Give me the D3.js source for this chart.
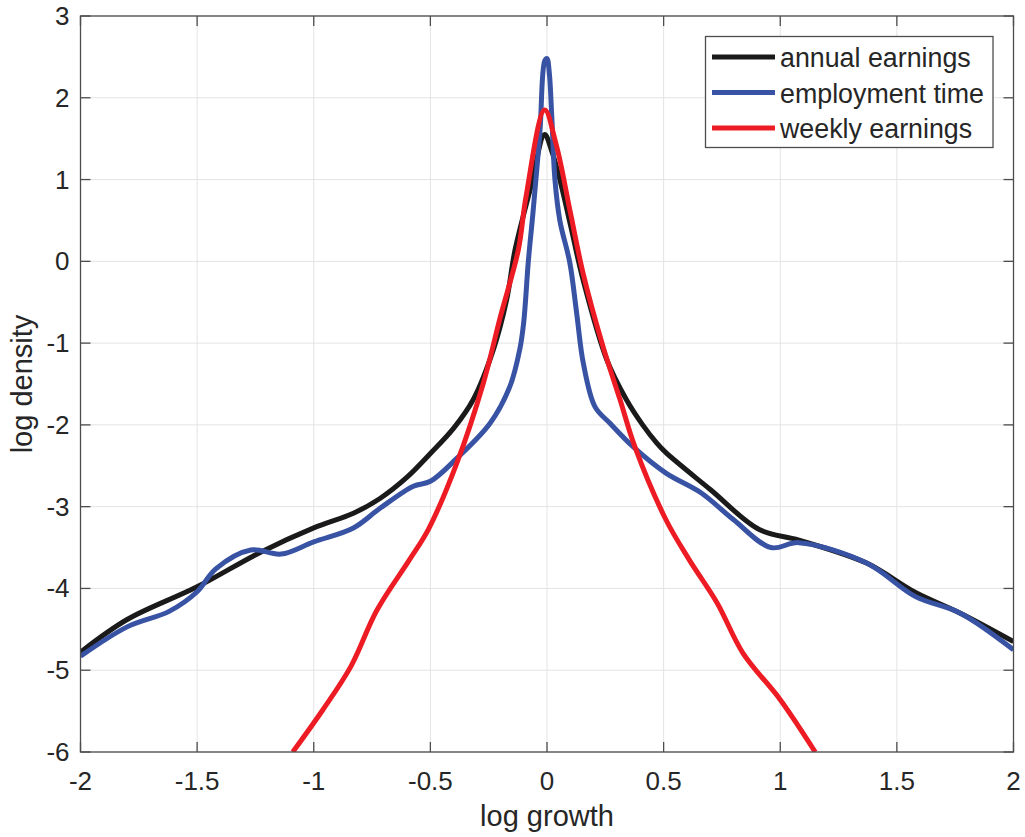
<!DOCTYPE html>
<html lang="en">
  <head>
    <meta charset="UTF-8" />
    <title>log growth densities</title>
    <style>
      body {
        margin: 0;
        background: #fff;
        font-family: "Liberation Sans", Arial, sans-serif;
      }
      .grid line {
        stroke: #e3e3e3;
        stroke-width: 1px;
      }
      .tick-label {
        font-size: 26px;
        fill: #262626;
      }
      .axis-title {
        font-size: 29px;
        fill: #262626;
      }
      .legend-label {
        font-size: 26.8px;
        fill: #262626;
      }
      .series {
        fill: none;
        stroke-width: 5px;
        stroke-linejoin: round;
      }
    </style>
  </head>
  <body>
    <svg width="1025" height="837"></svg>

    <script src="https://d3js.org/d3.v7.min.js"></script>
    <script>
      // values
      const annualX = [-2, -1.8, -1.5, -1.23, -1.0, -0.83, -0.716, -0.6, -0.5, -0.4, -0.316, -0.23, -0.173, -0.137, -0.07, -0.01, 0.02, 0.055, 0.1, 0.155, 0.256, 0.34, 0.41, 0.47, 0.51, 0.7, 0.91, 1.08, 1.37, 1.58, 1.77, 2.0];
      const annualY = [-4.78, -4.38, -3.98, -3.56, -3.26, -3.08, -2.9, -2.64, -2.35, -2.04, -1.69, -1.08, -0.47, 0.14, 0.9, 1.55, 1.35, 1.0, 0.45, -0.23, -1.2, -1.69, -2.0, -2.22, -2.34, -2.79, -3.28, -3.41, -3.69, -4.05, -4.3, -4.65];

      const employX = [-2, -1.8, -1.62, -1.5, -1.42, -1.27, -1.14, -1.0, -0.83, -0.716, -0.573, -0.5, -0.387, -0.244, -0.159, -0.117, -0.1, -0.08, -0.06, -0.03, -0.01, 0.0, 0.01, 0.02, 0.034, 0.055, 0.098, 0.127, 0.156, 0.206, 0.27, 0.37, 0.51, 0.66, 0.8, 0.96, 1.08, 1.37, 1.58, 1.77, 2.0];
      const employY = [-4.83, -4.47, -4.28, -4.04, -3.76, -3.53, -3.58, -3.43, -3.26, -3.02, -2.75, -2.69, -2.41, -1.98, -1.53, -1.08, -0.75, 0.0, 0.6, 1.6, 2.45, 2.48, 2.3, 1.8, 1.0, 0.5, -0.02, -0.63, -1.25, -1.78, -1.98, -2.27, -2.59, -2.83, -3.16, -3.5, -3.44, -3.69, -4.1, -4.3, -4.75];

      const weeklyX = [-1.09, -0.96, -0.84, -0.73, -0.59, -0.509, -0.387, -0.273, -0.2, -0.123, -0.09, -0.01, 0.04, 0.1, 0.155, 0.24, 0.313, 0.377, 0.51, 0.61, 0.73, 0.84, 1.0, 1.15];
      const weeklyY = [-6.0, -5.48, -4.95, -4.27, -3.65, -3.28, -2.47, -1.49, -0.68, 0.14, 0.79, 1.85, 1.42, 0.6, -0.15, -1.04, -1.69, -2.27, -3.16, -3.65, -4.18, -4.79, -5.36, -6.0];

      const seriesNames = ["annual earnings", "employment time", "weekly earnings"];
      const seriesColors = ["#1a1a1a", "#3953a4", "#ed1c24"];

      const xTicks = [-2, -1.5, -1, -0.5, 0, 0.5, 1, 1.5, 2];
      const yTicks = [-6, -5, -4, -3, -2, -1, 0, 1, 2, 3];

      const plotLeft = 80.5,
        plotRight = 1013.5,
        plotTop = 16,
        plotBottom = 752;

      const x = d3.scaleLinear().domain([-2, 2]).range([plotLeft, plotRight]);
      const y = d3.scaleLinear().domain([-6, 3]).range([plotBottom, plotTop]);

      const svg = d3.select("svg");

      svg
        .append("defs")
        .append("clipPath")
        .attr("id", "plot-clip")
        .append("rect")
        .attr("x", plotLeft)
        .attr("y", plotTop)
        .attr("width", plotRight - plotLeft)
        .attr("height", plotBottom - plotTop);

      // grid
      const grid = svg.append("g").attr("class", "grid");
      grid
        .selectAll("line.gx")
        .data(xTicks)
        .join("line")
        .attr("class", "gx")
        .attr("x1", (d) => x(d))
        .attr("x2", (d) => x(d))
        .attr("y1", plotTop)
        .attr("y2", plotBottom);
      grid
        .selectAll("line.gy")
        .data(yTicks)
        .join("line")
        .attr("class", "gy")
        .attr("y1", (d) => y(d))
        .attr("y2", (d) => y(d))
        .attr("x1", plotLeft)
        .attr("x2", plotRight);

      // lines
      const lineGen = d3
        .line()
        .x((d) => x(d[0]))
        .y((d) => y(d[1]))
        .curve(d3.curveCatmullRom.alpha(0.5));

      const series = [
        d3.zip(annualX, annualY),
        d3.zip(employX, employY),
        d3.zip(weeklyX, weeklyY),
      ];

      svg
        .append("g")
        .attr("clip-path", "url(#plot-clip)")
        .selectAll("path")
        .data(series)
        .join("path")
        .attr("class", "series")
        .attr("stroke", (d, i) => seriesColors[i])
        .attr("d", lineGen);

      // box + inward ticks
      const axisColor = "#4d4d4d";
      svg
        .append("rect")
        .attr("x", plotLeft)
        .attr("y", plotTop)
        .attr("width", plotRight - plotLeft)
        .attr("height", plotBottom - plotTop)
        .attr("fill", "none")
        .attr("stroke", axisColor)
        .attr("stroke-width", 1.3);

      const tickLen = 10;
      const ticks = svg.append("g").attr("stroke", axisColor).attr("stroke-width", 1.3);
      xTicks.forEach((t) => {
        ticks.append("line").attr("x1", x(t)).attr("x2", x(t)).attr("y1", plotBottom).attr("y2", plotBottom - tickLen);
        ticks.append("line").attr("x1", x(t)).attr("x2", x(t)).attr("y1", plotTop).attr("y2", plotTop + tickLen);
      });
      yTicks.forEach((t) => {
        ticks.append("line").attr("y1", y(t)).attr("y2", y(t)).attr("x1", plotLeft).attr("x2", plotLeft + tickLen);
        ticks.append("line").attr("y1", y(t)).attr("y2", y(t)).attr("x1", plotRight).attr("x2", plotRight - tickLen);
      });

      // tick labels
      svg
        .append("g")
        .selectAll("text")
        .data(xTicks)
        .join("text")
        .attr("class", "tick-label")
        .attr("x", (d) => x(d))
        .attr("y", plotBottom + 38)
        .attr("text-anchor", "middle")
        .text((d) => d);

      svg
        .append("g")
        .selectAll("text")
        .data(yTicks)
        .join("text")
        .attr("class", "tick-label")
        .attr("x", plotLeft - 11)
        .attr("y", (d) => y(d) + 9)
        .attr("text-anchor", "end")
        .text((d) => d);

      // axis titles
      svg
        .append("text")
        .attr("class", "axis-title")
        .attr("x", (plotLeft + plotRight) / 2)
        .attr("y", 826)
        .attr("text-anchor", "middle")
        .text("log growth");

      svg
        .append("text")
        .attr("class", "axis-title")
        .attr("transform", `translate(32,${(plotTop + plotBottom) / 2}) rotate(-90)`)
        .attr("text-anchor", "middle")
        .text("log density");

      // legend
      const legend = svg.append("g");
      legend
        .append("rect")
        .attr("x", 705.5)
        .attr("y", 36.5)
        .attr("width", 287.5)
        .attr("height", 111)
        .attr("fill", "#fff")
        .attr("stroke", axisColor)
        .attr("stroke-width", 1.3);

      const rows = legend
        .selectAll("g")
        .data(seriesNames)
        .join("g")
        .attr("transform", (d, i) => `translate(0,${57 + i * 35.5})`);

      rows
        .append("line")
        .attr("x1", 712)
        .attr("x2", 775)
        .attr("stroke", (d, i) => seriesColors[i])
        .attr("stroke-width", 5);

      rows
        .append("text")
        .attr("class", "legend-label")
        .attr("x", 780)
        .attr("y", 10)
        .text((d) => d);
    </script>
  </body>
</html>
